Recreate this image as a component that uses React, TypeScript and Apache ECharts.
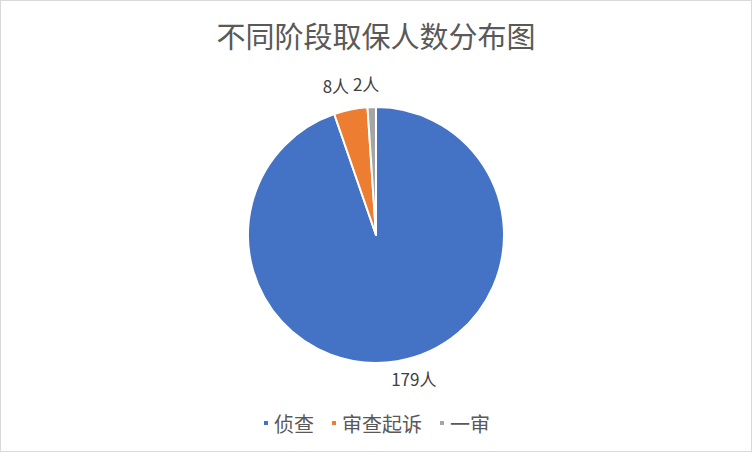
import * as echarts from "echarts";
import React, { useEffect, useRef } from "react";

const titleText = "不同阶段取保人数分布图";
const stages = ["侦查", "审查起诉", "一审"];
const counts = [179, 8, 2];
const colors = ["#4472C4", "#ED7D31", "#A5A5A5"];
const unit = "人";

const FONT = '"Noto Sans CJK SC", "Noto Sans", sans-serif';

// small nudges so the outside labels sit where the reference has them
const labelShift = [
  { dx: -14, dy: 0 },
  { dx: 7, dy: -6 },
  { dx: 0, dy: -6, align: "center" },
];

const App: React.FC = () => {
  const chartRef = useRef<HTMLDivElement | null>(null);

  useEffect(() => {
    const chart = echarts.init(chartRef.current, null, { renderer: "svg" });
    chart.setOption({
      animation: false,
      backgroundColor: "#ffffff",
      color: colors,
      textStyle: { fontFamily: FONT },
      title: {
        text: titleText,
        left: "center",
        top: 14,
        textStyle: {
          fontSize: 29,
          fontWeight: "normal",
          color: "#595959",
          fontFamily: FONT,
        },
      },
      legend: {
        bottom: 13,
        left: "center",
        icon: "rect",
        itemWidth: 6,
        itemHeight: 6,
        itemGap: 16,
        textStyle: { fontSize: 20, color: "#595959", fontFamily: FONT },
        data: stages,
      },
      series: [
        {
          type: "pie",
          center: ["50%", "52%"],
          radius: 128,
          startAngle: 90,
          clockwise: true,
          avoidLabelOverlap: false,
          itemStyle: { borderColor: "#ffffff", borderWidth: 2 },
          label: {
            show: true,
            position: "outside",
            formatter: (p: any) => `${p.value}${unit}`,
            fontSize: 17,
            color: "#404040",
            fontFamily: FONT,
          },
          labelLine: { show: false, length: 18, length2: 0 },
          labelLayout: (p: any) => labelShift[p.dataIndex] || {},
          emphasis: { disabled: true },
          data: stages.map((name, i) => ({ name, value: counts[i] })),
        },
      ],
    });
    return () => {
      chart.dispose();
    };
  }, []);

  return (
    <div
      ref={chartRef}
      style={{
        position: "absolute",
        left: 0,
        top: 0,
        width: 752,
        height: 452,
        boxSizing: "border-box",
        border: "1px solid #d9d9d9",
      }}
    ></div>
  );
};

export default App;
